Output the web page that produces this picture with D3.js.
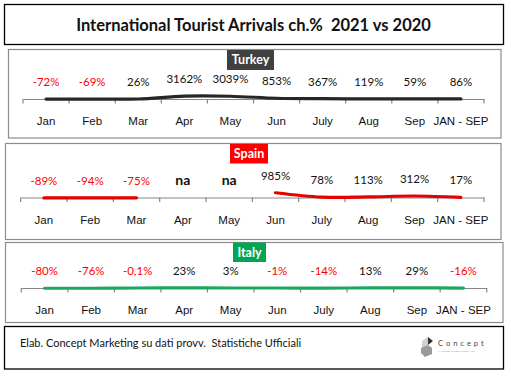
<!DOCTYPE html>
<html><head><meta charset="utf-8">
<script src="https://cdn.jsdelivr.net/npm/d3@7"></script>
<style>
html,body{margin:0;padding:0;background:#fff;}
svg{display:block;font-family:Lato,"Open Sans",sans-serif;}
text{white-space:pre;}
</style></head>
<body>
<svg id="chart" width="511" height="377"></svg>
<script>
const title = "International Tourist Arrivals ch.%  2021 vs 2020";
const source = "Elab. Concept Marketing su dati provv.  Statistiche Ufficiali";
const months = ["Jan","Feb","Mar","Apr","May","Jun","July","Aug","Sep","JAN - SEP"];
const countries = ["Turkey","Spain","Italy"];
const turkeyValues = [-72,-69,26,3162,3039,853,367,119,59,86];
const turkeyLabels = ["-72%","-69%","26%","3162%","3039%","853%","367%","119%","59%","86%"];
const spainValues = [-89,-94,-75,null,null,985,78,113,312,17];
const spainLabels = ["-89%","-94%","-75%","na","na","985%","78%","113%","312%","17%"];
const italyValues = [-80,-76,-0.1,23,3,-1,-14,13,29,-16];
const italyLabels = ["-80%","-76%","-0,1%","23%","3%","-1%","-14%","13%","29%","-16%"];

const svg = d3.select("#chart");

// title box
svg.append("rect").attr("x",4.5).attr("y",4.5).attr("width",499).attr("height",40)
  .attr("fill","#fff").attr("stroke","#000").attr("stroke-width",1.3);
svg.append("text").attr("x",253.5).attr("y",25).attr("dy","0.35em").attr("text-anchor","middle")
  .attr("font-weight","bold").attr("font-size",16.5).attr("fill","#111").text(title);

const panels = [
  {name:countries[0], values:turkeyValues, labels:turkeyLabels, box:[8.5,49.5,492.5,88.5], tag:[227,50,47,20], tagColor:"#404040",
   color:"#262626", axisY:99, x0:23, x1:484, px:0.9},
  {name:countries[1], values:spainValues, labels:spainLabels, box:[5.5,143.5,495.5,96], tag:[230,144,38,19.5], tagColor:"#ff0000",
   color:"#e60000", axisY:197.5, x0:20.7, x1:484, px:4.8},
  {name:countries[2], values:italyValues, labels:italyLabels, box:[5.5,242.5,497.5,80], tag:[233,242.5,33,19.5], tagColor:"#00a650",
   color:"#1fa85a", axisY:288, x0:21.3, x1:486.7, px:3}
];

panels.forEach(p => {
  const g = svg.append("g");
  g.append("rect").attr("x",p.box[0]).attr("y",p.box[1]).attr("width",p.box[2]).attr("height",p.box[3])
    .attr("fill","#fff").attr("stroke","#8c8c8c").attr("stroke-width",1.2);
  g.append("rect").attr("x",p.tag[0]).attr("y",p.tag[1]).attr("width",p.tag[2]).attr("height",p.tag[3]).attr("fill",p.tagColor);
  g.append("text").attr("x",p.tag[0]+p.tag[2]/2).attr("y",p.tag[1]+p.tag[3]/2).attr("dy","0.35em")
    .attr("text-anchor","middle").attr("font-weight","bold").attr("font-size",12.5).attr("fill","#fff").text(p.name);

  const x = d3.scaleBand().domain(months).range([p.x0,p.x1]);
  const y = d3.scaleLinear().domain([0,1000]).range([p.axisY, p.axisY - p.px]);

  const axis = d3.axisBottom(x).tickSize(0).tickFormat("");
  const ag = g.append("g").attr("transform",`translate(0,${p.axisY})`).call(axis);
  ag.select(".domain").attr("stroke","#868686").attr("stroke-width",1.2);
  const edges = months.map(m => x(m)).concat([p.x1]);
  ag.selectAll("line.tk").data(edges).enter().append("line").attr("class","tk")
    .attr("x1",d=>d).attr("x2",d=>d).attr("y1",0).attr("y2",4.5).attr("stroke","#868686").attr("stroke-width",1.2);
  ag.selectAll("text.mo").data(months).enter().append("text").attr("class","mo")
    .attr("x",d=>x(d)+x.bandwidth()/2).attr("y",22).attr("dy","0.35em").attr("text-anchor","middle")
    .attr("font-size",11.5).attr("fill","#111").text(d=>d);

  const pts = months.map((m,i)=>({m, v:p.values[i], l:p.labels[i]}));
  const line = d3.line().defined(d=>d.v!==null).x(d=>x(d.m)+x.bandwidth()/2).y(d=>y(d.v)).curve(d3.curveCatmullRom);
  g.append("path").attr("d",line(pts)).attr("fill","none").attr("stroke",p.color).attr("stroke-width",3.2).attr("stroke-linecap","round");

  g.selectAll("text.val").data(pts).enter().append("text").attr("class","val")
    .attr("x",d=>x(d.m)+x.bandwidth()/2).attr("y",d=>(d.v===null?p.axisY:y(d.v)) - 17).attr("dy","0.35em")
    .attr("text-anchor","middle")
    .attr("font-size",d=>d.v===null?14:11.5).attr("font-weight",d=>d.v===null?"bold":"normal")
    .attr("fill",d=>(d.v!==null && d.v<0)?"#ff0000":"#111").text(d=>d.l);
});

// footer
svg.append("rect").attr("x",4.5).attr("y",326.5).attr("width",499).attr("height",42.5)
  .attr("fill","#fff").attr("stroke","#000").attr("stroke-width",1.3);
svg.append("text").attr("x",20).attr("y",343).attr("dy","0.35em").attr("font-size",11).attr("fill","#111").text(source);

// logo
const lg = svg.append("g").attr("transform","translate(420,335)");
lg.append("path").attr("d","M2,6 L8,2 L8,10 L2,13 Z").attr("fill","#cfcfcf");
lg.append("path").attr("d","M8,2 L13,6 L8,10 Z").attr("fill","#333");
lg.append("path").attr("d","M1,13 L8,10 L12,13 L12,19 L5,22 L1,18 Z").attr("fill","#9a9a9a");
lg.append("text").attr("x",18).attr("y",11).attr("font-size",7.5).attr("letter-spacing",3).attr("fill","#444").text("Concept");
lg.append("text").attr("x",18).attr("y",16.5).attr("font-size",2.6).attr("fill","#999").text("MARKETING PROMOZIONALE");
</script>
</body></html>
